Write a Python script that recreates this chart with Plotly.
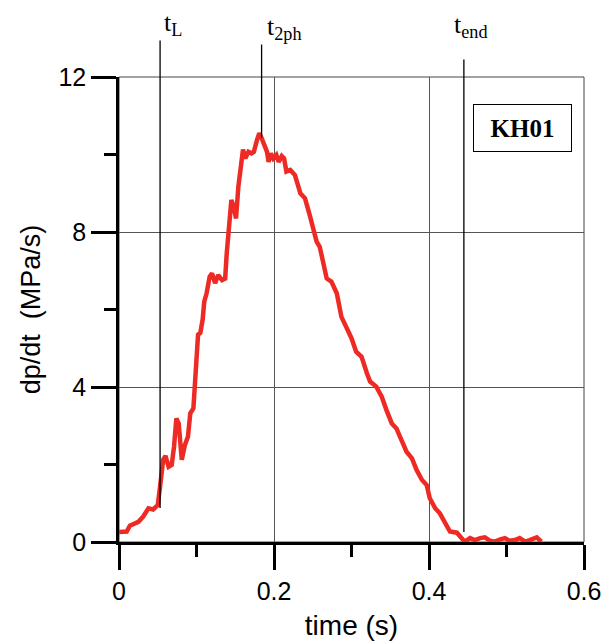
import plotly.graph_objects as go

# ---- data ----
time_s = [0.000, 0.010, 0.014, 0.025, 0.031, 0.038, 0.044, 0.050, 0.053, 0.057,
          0.060, 0.064, 0.068, 0.071, 0.074, 0.077, 0.081, 0.085, 0.089, 0.092,
          0.096, 0.098, 0.100, 0.102, 0.105, 0.108, 0.110, 0.113, 0.117, 0.120,
          0.124, 0.128, 0.133, 0.137, 0.139, 0.142, 0.145, 0.148, 0.151, 0.154,
          0.158, 0.160, 0.163, 0.167, 0.171, 0.174, 0.178, 0.181, 0.184, 0.188,
          0.191, 0.193, 0.196, 0.199, 0.203, 0.206, 0.210, 0.213, 0.216, 0.221,
          0.227, 0.234, 0.240, 0.246, 0.251, 0.255, 0.259, 0.264, 0.268, 0.274,
          0.281, 0.287, 0.294, 0.300, 0.306, 0.313, 0.320, 0.324, 0.332, 0.339,
          0.345, 0.352, 0.358, 0.365, 0.371, 0.378, 0.384, 0.391, 0.397, 0.401,
          0.408, 0.414, 0.421, 0.427, 0.436, 0.440, 0.446, 0.453, 0.459, 0.466,
          0.472, 0.479, 0.485, 0.492, 0.498, 0.504, 0.511, 0.517, 0.524, 0.530,
          0.539, 0.545]
dpdt = [0.26, 0.27, 0.42, 0.52, 0.65, 0.87, 0.84, 0.95, 1.43, 2.12,
        2.22, 1.94, 1.99, 2.46, 3.19, 3.06, 2.12, 2.50, 2.72, 3.32,
        3.45, 4.10, 4.60, 5.35, 5.40, 5.75, 6.20, 6.42, 6.85, 6.93,
        6.68, 6.89, 6.76, 6.80, 7.45, 8.05, 8.83, 8.65, 8.35, 9.17,
        9.77, 10.13, 9.90, 10.07, 10.03, 10.07, 10.37, 10.55, 10.42, 10.25,
        10.07, 9.81, 10.03, 9.90, 9.99, 9.81, 9.96, 9.90, 9.56, 9.60,
        9.47, 9.00, 8.87, 8.44, 8.05, 7.75, 7.62, 7.19, 6.80, 6.72,
        6.42, 5.81, 5.51, 5.26, 4.91, 4.78, 4.35, 4.14, 4.01, 3.75,
        3.41, 3.06, 2.93, 2.63, 2.33, 2.16, 1.86, 1.60, 1.47, 1.13,
        0.87, 0.74, 0.48, 0.27, 0.24, 0.14, 0.01, 0.10, 0.05, 0.10,
        0.12, 0.03, 0.01, 0.07, 0.10, 0.03, 0.05, 0.10, 0.01, 0.05,
        0.12, 0.01]

# event markers
marker_names = ["t<sub>L</sub>", "t<sub>2ph</sub>", "t<sub>end</sub>"]
marker_times = [0.053, 0.184, 0.445]
marker_low = [0.88, 10.43, 0.26]
marker_high = [12.98, 12.88, 12.49]

x_ticks = [0, 0.2, 0.4, 0.6]
x_ticktext = ["0", "0.2", "0.4", "0.6"]
y_ticks = [0, 4, 8, 12]
y_ticktext = ["0", "4", "8", "12"]

SANS = "Arial, Liberation Sans, sans-serif"
SERIF = "Times New Roman, Liberation Serif, serif"

fig = go.Figure()
fig.add_trace(go.Scatter(x=time_s, y=dpdt, mode="lines",
                         line=dict(color="#EE2A24", width=4.5),
                         showlegend=False, hoverinfo="skip"))

# marker lines (from curve up beyond the plot top)
label_y = [1.114, 1.105, 1.11]
label_anchor = ["left", "left", "center"]
label_shift = [2, 3, 7]
for name, t, lo, hi, ly, anc, sh in zip(marker_names, marker_times, marker_low,
                                        marker_high, label_y, label_anchor, label_shift):
    fig.add_annotation(x=t, y=lo, ax=t, ay=hi, xref="x", yref="y", axref="x", ayref="y",
                       text="", showarrow=True, arrowhead=0, arrowwidth=1.3,
                       arrowcolor="black", standoff=0, startstandoff=0)
    fig.add_annotation(x=t, y=ly, xref="x", yref="paper", text=name, showarrow=False,
                       xanchor=anc, yanchor="middle", xshift=sh,
                       font=dict(family=SERIF, size=26, color="black"))

# KH01 box
fig.add_annotation(x=0.868, y=0.890, xref="paper", yref="paper", text="<b>KH01</b>",
                   showarrow=False, width=95, height=44, bordercolor="black",
                   borderwidth=1, bgcolor="white", xanchor="center", yanchor="middle",
                   font=dict(family=SERIF, size=25, color="black"))

# plot frame (top/right)
fig.add_shape(type="rect", xref="paper", yref="paper", x0=0, x1=1, y0=0, y1=1,
              line=dict(color="#444444", width=1), layer="below")

fig.update_layout(
    width=605, height=642,
    margin=dict(l=119, r=21, t=77, b=100, autoexpand=False),
    paper_bgcolor="white", plot_bgcolor="white",
    font=dict(family=SANS, color="black"),
    xaxis=dict(range=[0, 0.6], tickvals=x_ticks, ticktext=x_ticktext, automargin=False,
               showline=True, linecolor="black", linewidth=2.5,
               ticks="outside", ticklen=25, tickwidth=2.5, tickcolor="black",
               minor=dict(dtick=0.1, tick0=0, ticks="outside", ticklen=12,
                          tickwidth=2.5, tickcolor="black", showgrid=False),
               showgrid=True, gridcolor="#555555", gridwidth=1.2, zeroline=False,
               tickfont=dict(size=25, family=SANS),
               title=dict(text="time (s)", font=dict(size=28, family=SANS), standoff=12)),
    yaxis=dict(range=[0, 12], tickvals=y_ticks, ticktext=y_ticktext, automargin=False,
               showline=True, linecolor="black", linewidth=2.5,
               ticks="outside", ticklen=25, tickwidth=2.5, tickcolor="black",
               minor=dict(dtick=2, tick0=0, ticks="outside", ticklen=12,
                          tickwidth=2.5, tickcolor="black", showgrid=False),
               showgrid=True, gridcolor="#555555", gridwidth=1.2, zeroline=False,
               tickfont=dict(size=25, family=SANS),
               title=dict(text="dp/dt\u00a0\u00a0(MPa/s)", font=dict(size=27, family=SANS),
                          standoff=10)),
)

fig.write_html("out.html")
